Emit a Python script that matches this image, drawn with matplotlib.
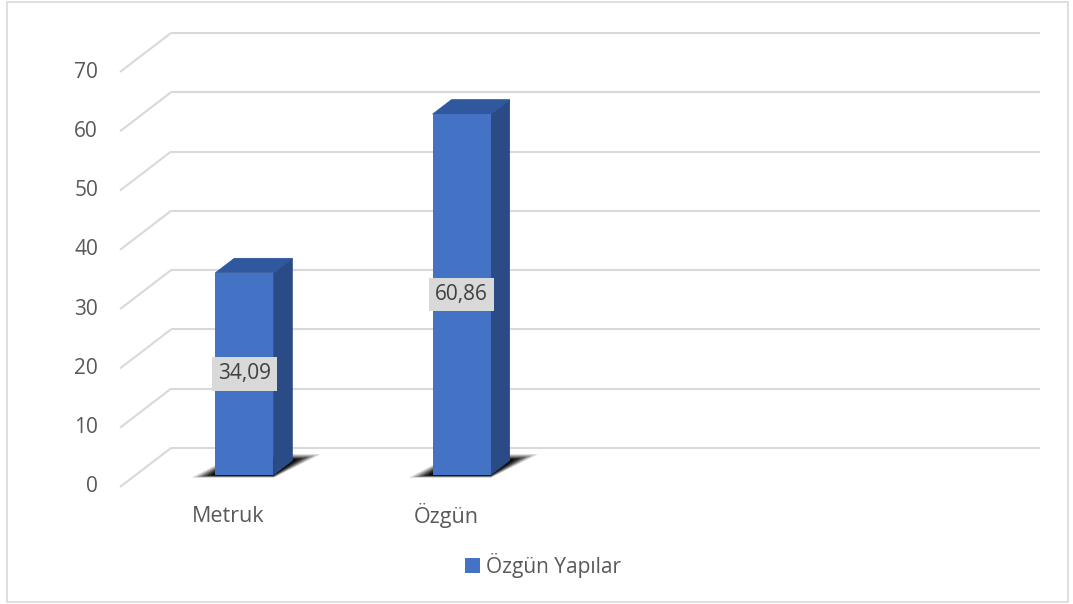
import matplotlib
matplotlib.use("Agg")
import matplotlib.pyplot as plt
from matplotlib.patches import Polygon, Rectangle, Patch

# ---- data ----
categories = ["Metruk", "Özgün"]
values = [34.09, 60.86]
value_labels = ["34,09", "60,86"]
series_name = "Özgün Yapılar"
y_ticks = [0, 10, 20, 30, 40, 50, 60, 70]
n_slots = 4  # chart reserves 4 category slots

# ---- style ----
FRONT = "#4472C4"
TOP = "#30589E"
SIDE = "#2B4B86"
GRID = "#D9D9D9"
TXT = "#595959"
FONT = "Open Sans"

W, H, DPI = 1073, 604, 100
fig = plt.figure(figsize=(W / DPI, H / DPI), dpi=DPI)
fig.patch.set_facecolor("white")

# front plane of the 3-D box
ax = fig.add_axes([120 / W, (H - 487) / H, 869 / W, 415 / H])
ax.set_xlim(-0.5, n_slots - 0.5)
ax.set_ylim(0, 70)
ax.axis("off")

# depth offsets in data units (full depth of the box)
px_x = 869 / n_slots
px_y = 415 / 70
DX = 51 / px_x
DY = 39 / px_y


def P(xp, d, v=0.0):
    """point on plane x=xp, depth d (0 front .. 1 back), value v -> data coords"""
    return (xp + d * DX, v + d * DY)


x0, x1 = -0.5, n_slots - 0.5
# gridlines: diagonal on left wall + horizontal on back wall
for v in y_ticks:
    ax.plot(*zip(P(x0, 0, v), P(x0, 1, v)), color=GRID, lw=1.5, clip_on=False,
            zorder=1, solid_capstyle="butt")
    ax.plot(*zip(P(x0, 1, v), P(x1, 1, v)), color=GRID, lw=1.5, clip_on=False,
            zorder=1, solid_capstyle="butt")
    ax.text(x0 - 22 / px_x, v, str(v), ha="right", va="center", fontsize=15,
            color=TXT, family=FONT,
            bbox=dict(boxstyle="square,pad=0.1", fc="white", ec="none"))

# bars
bw = 58 / px_x
d0, d1 = 0.31, 0.68
sx = 20 / px_x  # shadow spread in x
for i, (v, lab) in enumerate(zip(values, value_labels)):
    xl = i - bw / 2
    xr = i + bw / 2
    # soft shadow on the floor
    layers = [(1.0, 0.18), (0.8, 0.28), (0.6, 0.4), (0.4, 0.55), (0.2, 0.75), (0.05, 0.9)]
    for f, al in layers:
        e = sx * f
        df = 0.07 * f
        db = 0.16 * f
        shadow = Polygon([P(xl - e, d0 - df), P(xr + 0.2 * e, d0 - df),
                          P(xr + e, d1 + db), P(xl - 0.3 * e, d1 + db)],
                         closed=True, fc="black", ec="none", alpha=al, zorder=2,
                         clip_on=False)
        ax.add_patch(shadow)
    # front face
    ax.bar(P(i, d0)[0], v, width=bw, bottom=P(i, d0)[1], color=FRONT, zorder=4)
    # side face
    side = Polygon([P(xr, d0), P(xr, d1), P(xr, d1, v), P(xr, d0, v)],
                   closed=True, fc=SIDE, ec=SIDE, lw=0.6, zorder=3, clip_on=False)
    ax.add_patch(side)
    # top face
    top = Polygon([P(xl, d0, v), P(xr, d0, v), P(xr, d1, v), P(xl, d1, v)],
                  closed=True, fc=TOP, ec=TOP, lw=0.6, zorder=3, clip_on=False)
    ax.add_patch(top)
    # data label
    lx, ly = P(i, d0, v / 2)
    ax.text(lx, ly, lab, ha="center", va="center", fontsize=15,
            color="#404040", family=FONT, zorder=6,
            bbox=dict(boxstyle="square,pad=0.3", fc="#D9D9D9", ec="none"))
    # category label
    ax.text(i, -29 / px_y, categories[i], ha="center", va="center", fontsize=15.5,
            color=TXT, family=FONT, clip_on=False)

# legend
leg = fig.legend(handles=[Patch(facecolor=FRONT, edgecolor="none", label=series_name)],
                 loc="center", bbox_to_anchor=(543 / W, 1 - 565 / H), frameon=False,
                 handlelength=0.7, handleheight=0.7, handletextpad=0.3,
                 prop={"family": FONT, "size": 15})
for t in leg.get_texts():
    t.set_color(TXT)

# outer border
fig.patches.append(Rectangle((7 / W, 2 / H), (1068 - 7) / W, (602 - 2) / H,
                             transform=fig.transFigure, fill=False, ec=GRID, lw=1.2))

fig.savefig("out.png", dpi=DPI, facecolor="white")
